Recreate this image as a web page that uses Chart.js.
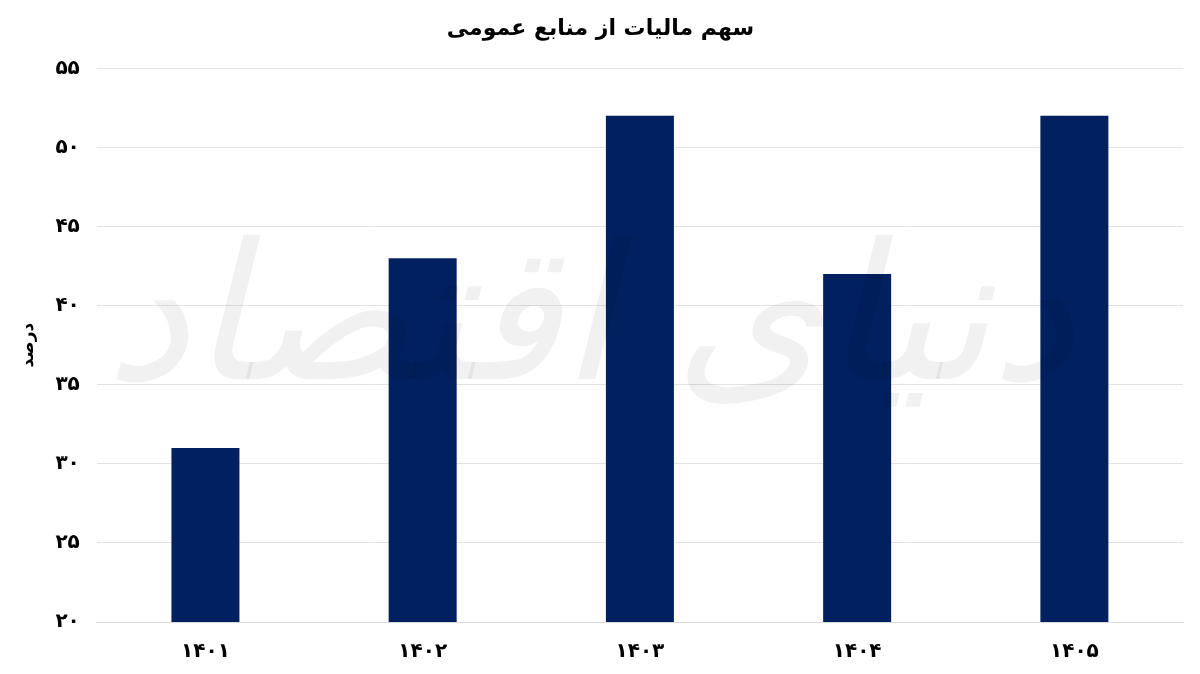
<!DOCTYPE html>
<html lang="fa">
<head>
<meta charset="utf-8">
<script src="https://cdn.jsdelivr.net/npm/chart.js@4.4.0/dist/chart.umd.min.js"></script>
<style>
  html, body { margin: 0; padding: 0; background: #fff; }
  #wrap { width: 1200px; height: 674px; position: relative; }
</style>
</head>
<body>
<div id="wrap"><canvas id="chart"></canvas></div>
<script>
// ── Data ────────────────────────────────────────────────────────
const TITLE = "سهم مالیات از منابع عمومی";
const Y_TITLE = "درصد";
const YEARS = ["۱۴۰۱", "۱۴۰۲", "۱۴۰۳", "۱۴۰۴", "۱۴۰۵"];
const TAX_SHARE = [31, 43, 52, 42, 52];
const Y_MIN = 20;
const Y_MAX = 55;
const Y_STEP = 5;
const WATERMARK = "دنیای اقتصاد";

const FONT = "'DejaVu Sans', 'Noto Sans', sans-serif";

function toPersianDigits(n) {
  return String(n).replace(/\d/g, d => "۰۱۲۳۴۵۶۷۸۹"[d]);
}

// faint logo text over the plot, like the source image
const watermarkPlugin = {
  id: "watermark",
  afterDatasetsDraw(chart) {
    const { ctx, chartArea } = chart;
    ctx.save();
    ctx.font = "italic 190px " + FONT;
    ctx.fillStyle = "rgba(0,0,0,0.055)";
    ctx.textAlign = "center";
    ctx.textBaseline = "middle";
    ctx.direction = "rtl";
    ctx.fillText(WATERMARK, (chartArea.left + chartArea.right) / 2 - 50, 330);
    ctx.restore();
  },
};

const ctx = document.getElementById("chart").getContext("2d");

new Chart(ctx, {
  type: "bar",
  data: {
    labels: YEARS,
    datasets: [
      {
        label: TITLE,
        data: TAX_SHARE,
        backgroundColor: "#00205f",
        borderWidth: 0,
        categoryPercentage: 1.0,
        barPercentage: 0.313,
      },
    ],
  },
  options: {
    responsive: true,
    maintainAspectRatio: false,
    animation: false,
    layout: { padding: { left: 18, right: 17, top: 0, bottom: 0 } },
    plugins: {
      legend: { display: false },
      tooltip: { enabled: false },
      title: {
        display: true,
        text: TITLE,
        color: "#000",
        font: { family: FONT, size: 22, weight: "bold" },
        padding: { top: 16, bottom: 26 },
      },
    },
    scales: {
      x: {
        grid: { display: false },
        border: { display: true, color: "#d9d9d9", width: 1 },
        ticks: {
          color: "#000",
          font: { family: FONT, size: 20, weight: "bold" },
          padding: 10,
        },
      },
      y: {
        min: Y_MIN,
        max: Y_MAX,
        grid: { color: "#e2e2e2", drawTicks: false },
        border: { display: false },
        ticks: {
          stepSize: Y_STEP,
          color: "#000",
          padding: 17,
          font: { family: FONT, size: 20, weight: "bold" },
          callback: (val) => toPersianDigits(val),
        },
        title: {
          display: true,
          text: Y_TITLE,
          color: "#000",
          font: { family: FONT, size: 17, weight: "bold" },
          padding: { top: 0, bottom: 0 },
        },
      },
    },
  },
  plugins: [watermarkPlugin],
});
</script>
</body>
</html>
